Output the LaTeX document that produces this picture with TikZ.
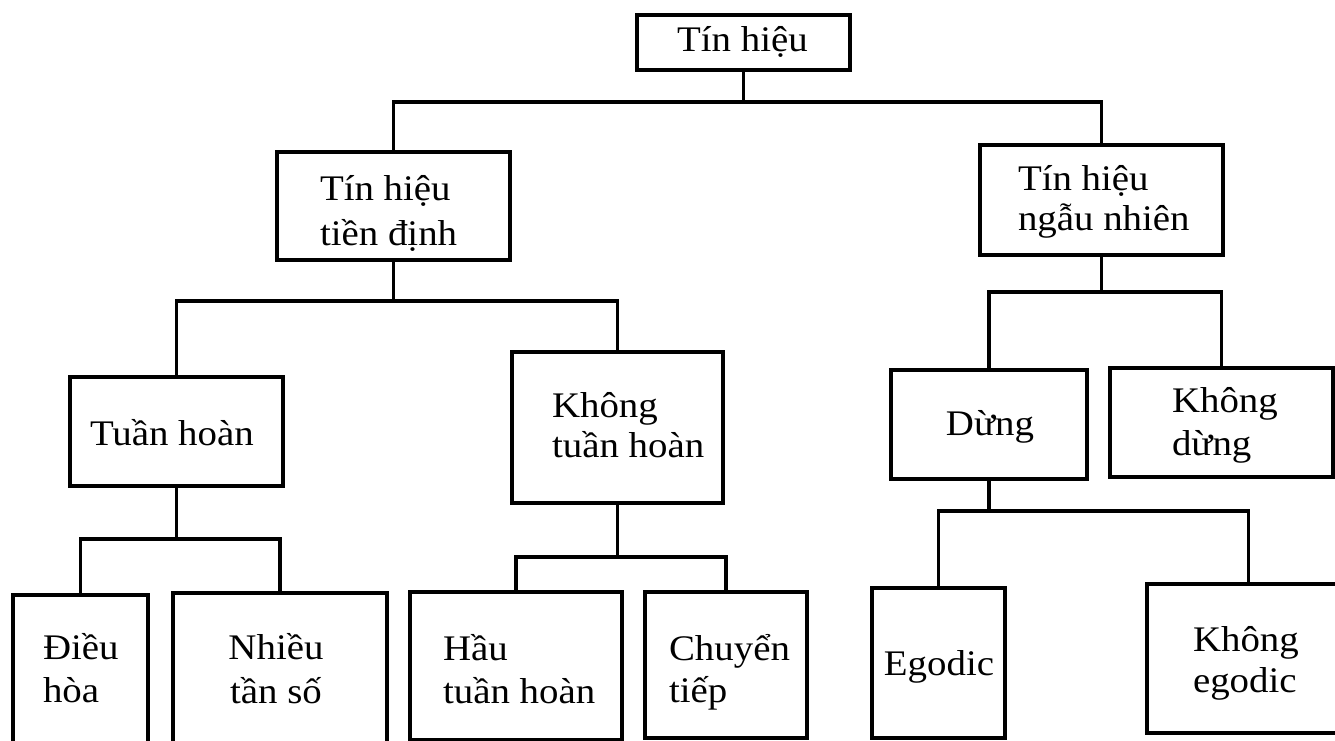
\documentclass[tikz,border=0pt]{standalone}
\usepackage{fontspec}
\setmainfont{Liberation Serif}[FakeStretch=1.08]
\newcommand\ltwo[3][41]{\vtop{\baselineskip=#1pt\lineskiplimit=-100pt\lineskip=0pt\halign{##\hfil\cr#2\cr#3\cr}}}
\newcommand\ctwo[3][41]{\vtop{\baselineskip=#1pt\lineskiplimit=-100pt\lineskip=0pt\halign{\hfil##\hfil\cr#2\cr#3\cr}}}
\tikzset{
  box/.style={draw, line width=3.1pt, inner sep=0pt, outer sep=0pt},
  lbl/.style={inner sep=0pt, outer sep=0pt, font=\fontsize{36}{41}\selectfont},
  conn/.style={line width=3.1pt}
}
\begin{document}
\begin{tikzpicture}[x=1pt,y=-1pt]
\useasboundingbox (0,0) rectangle (1335,741);
\fill[white] (0,0) rectangle (1335,741);
\clip (0,0) rectangle (1335,741);
% boxes
\node[box, minimum width=213pt, minimum height=55pt]  (root) at (743.5,42.5) {};
\node[box, minimum width=233pt, minimum height=108pt] (td)   at (393.5,206) {};
\node[box, minimum width=243pt, minimum height=110pt] (nn)   at (1101.5,200) {};
\node[box, minimum width=213pt, minimum height=109pt] (th)   at (176.5,431.5) {};
\node[box, minimum width=211pt, minimum height=151pt] (kth)  at (617.5,427.5) {};
\node[box, minimum width=196pt, minimum height=109pt] (dung) at (989,424.5) {};
\node[box, minimum width=223pt, minimum height=109pt] (kd)   at (1221.5,422.5) {};
\node[box, minimum width=135pt, minimum height=175pt] (dh)   at (80.5,682.5) {};
\node[box, minimum width=214pt, minimum height=177pt] (nts)  at (280,681.5) {};
\node[box, minimum width=212pt, minimum height=148pt] (htt)  at (516,666) {};
\node[box, minimum width=162pt, minimum height=146pt] (ct)   at (726,665) {};
\node[box, minimum width=133pt, minimum height=150pt] (ego)  at (938.5,663) {};
\node[box, minimum width=203pt, minimum height=149pt] (keg)  at (1248.5,658.5) {};
% labels
\node[lbl, anchor=base] (root-t) at (742.5,52) {Tín hiệu};
\node[lbl, anchor=base west] (td-t) at (320,200) {\ltwo[45]{Tín hiệu}{tiền định}};
\node[lbl, anchor=base west] (nn-t) at (1018,190) {\ltwo[40]{Tín hiệu}{ngẫu nhiên}};
\node[lbl, anchor=base west] (th-t) at (90,445) {Tuần hoàn};
\node[lbl, anchor=base west] (kth-t) at (552,417) {\ltwo[40]{Không}{tuần hoàn}};
\node[lbl, anchor=base] (dung-t) at (990,435) {Dừng};
\node[lbl, anchor=base west] (kd-t) at (1172,412) {\ltwo[43]{Không}{dừng}};
\node[lbl, anchor=base west] (dh-t) at (43,659) {\ltwo[43]{Điều}{hòa}};
\node[lbl, anchor=base] (nts-t) at (276,659) {\ctwo[44]{Nhiều}{tần số}};
\node[lbl, anchor=base west] (htt-t) at (443,660) {\ltwo[43]{Hầu}{tuần hoàn}};
\node[lbl, anchor=base west] (ct-t) at (669,660) {\ltwo[42]{Chuyển}{tiếp}};
\node[lbl, anchor=base] (ego-t) at (939,675) {Egodic};
\node[lbl, anchor=base west] (keg-t) at (1193,651) {\ltwo[41]{Không}{egodic}};
% bus coordinates
\coordinate (b1) at (743.5,102);
\coordinate (b2) at (393.5,301);
\coordinate (b3) at (1101.5,292);
\coordinate (b4) at (176.5,539);
\coordinate (b5) at (617.5,557);
\coordinate (b6) at (989,511);
% connectors
\draw[conn] (root.south) -- (b1);
\draw[conn] (td.north) |- (b1) -| (nn.north);
\draw[conn] (td.south) -- (b2);
\draw[conn] (th.north) |- (b2) -| (kth.north);
\draw[conn] (nn.south) -- (b3);
\draw[conn] (dung.north) |- (b3) -| (kd.north);
\draw[conn] (th.south) -- (b4);
\draw[conn] (dh.north) |- (b4) -| (nts.north);
\draw[conn] (kth.south) -- (b5);
\draw[conn] (htt.north) |- (b5) -| (ct.north);
\draw[conn] (dung.south) -- (b6);
\draw[conn] (ego.north) |- (b6) -| (keg.north);
\end{tikzpicture}
\end{document}
